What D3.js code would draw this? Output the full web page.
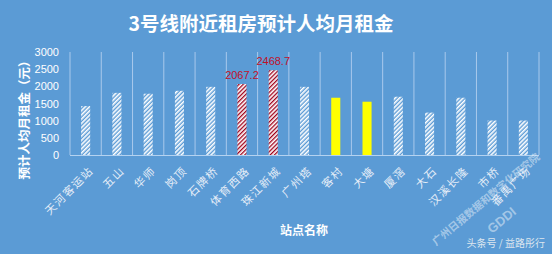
<!DOCTYPE html>
<html>
<head>
<meta charset="utf-8">
<script src="https://cdn.jsdelivr.net/npm/d3@7"></script>
<style>
  body { margin: 0; background: #5b9bd5; }
  svg { display: block; }
</style>
</head>
<body>
<div id="chart"></div>
<script>
// data
var stations = ["天河客运站", "五山", "华师", "岗顶", "石牌桥", "体育西路", "珠江新城", "广州塔",
                "客村", "大塘", "厦滘", "大石", "汉溪长隆", "市桥", "番禺广场"];
var rents = [1425, 1810, 1785, 1870, 1985, 2067.2, 2468.7, 1985, 1668, 1552, 1697, 1235, 1668, 1004, 1004];
// which bars get which fill
var barKind = ["w", "w", "w", "w", "w", "r", "r", "w", "y", "y", "w", "w", "w", "w", "w"];
var labelled = ["2067.2", "2468.7"];
var yTicks = [0, 500, 1000, 1500, 2000, 2500, 3000];

var W = 552, H = 254;
var margin = {left: 70, right: 13, top: 52, bottom: 99};

var svg = d3.select("#chart").append("svg")
    .attr("width", W)
    .attr("height", H);

svg.append("rect").attr("width", W).attr("height", H).attr("fill", "#5b9bd5");

var defs = svg.append("defs");
// white hatch
var pw = defs.append("pattern")
    .attr("id", "hatchW")
    .attr("patternUnits", "userSpaceOnUse")
    .attr("width", 3).attr("height", 3)
    .attr("patternTransform", "rotate(45)");
pw.append("rect").attr("width", 3).attr("height", 3).attr("fill", "#5b9bd5");
pw.append("rect").attr("width", 1.6).attr("height", 3).attr("fill", "#ffffff");
// red hatch
var pr = defs.append("pattern")
    .attr("id", "hatchR")
    .attr("patternUnits", "userSpaceOnUse")
    .attr("width", 3).attr("height", 3)
    .attr("patternTransform", "rotate(45)");
pr.append("rect").attr("width", 3).attr("height", 3).attr("fill", "#ffffff");
pr.append("rect").attr("width", 1.3).attr("height", 3).attr("fill", "#a0001a");

var fills = {w: "url(#hatchW)", r: "url(#hatchR)", y: "#ffff00"};

var x = d3.scaleBand()
    .domain(stations)
    .range([margin.left, W - margin.right])
    .paddingInner(0.71)
    .paddingOuter(0.355);

var y = d3.scaleLinear()
    .domain([0, 3000])
    .range([H - margin.bottom, margin.top]);

// title
svg.append("text")
    .attr("x", 261).attr("y", 31)
    .attr("text-anchor", "middle")
    .attr("fill", "#ffffff")
    .style("font-family", "'Noto Sans CJK SC', sans-serif")
    .style("font-weight", "bold")
    .style("font-size", "19.5px")
    .text("3号线附近租房预计人均月租金");

// vertical category separators
var step = x.step();
var bounds = d3.range(stations.length + 1).map(function(i) { return margin.left + i * step; });
svg.append("g").selectAll("line")
    .data(bounds)
  .enter().append("line")
    .attr("x1", function(d) { return d; })
    .attr("x2", function(d) { return d; })
    .attr("y1", y(3000))
    .attr("y2", y(0))
    .attr("stroke", "#a9c9ec")
    .attr("stroke-width", 1);

// y axis
var yAx = svg.append("g")
    .attr("transform", "translate(" + margin.left + ",0)")
    .call(d3.axisLeft(y).tickValues(yTicks).tickFormat(d3.format("d")).tickSize(0).tickPadding(11));
yAx.select(".domain").remove();
yAx.selectAll("text")
    .attr("fill", "#ffffff")
    .style("font-family", "'Liberation Sans', Arial, sans-serif")
    .style("font-size", "11px");

// x axis
var xAx = svg.append("g")
    .attr("transform", "translate(0," + y(0) + ")")
    .call(d3.axisBottom(x).tickSize(0).tickPadding(0));
xAx.select(".domain").attr("stroke", "#b4d2f0").attr("d", "M" + margin.left + ",0.5H" + (W - margin.right));
xAx.selectAll("text")
    .attr("fill", "#e6eef8")
    .style("font-family", "'Noto Sans CJK SC', sans-serif")
    .style("font-size", "11px")
    .style("letter-spacing", "1.5px")
    .attr("text-anchor", "end")
    .attr("dy", "0.3em")
    .attr("transform", "translate(6,14) rotate(-45)");

// bars
svg.append("g").selectAll("rect")
    .data(stations)
  .enter().append("rect")
    .attr("x", function(d) { return x(d); })
    .attr("width", x.bandwidth())
    .attr("y", function(d, i) { return y(rents[i]); })
    .attr("height", function(d, i) { return y(0) - y(rents[i]); })
    .attr("fill", function(d, i) { return fills[barKind[i]]; });

// value labels
svg.append("g").selectAll("text")
    .data(stations.filter(function(d, i) { return labelled.indexOf(String(rents[i])) >= 0; }))
  .enter().append("text")
    .attr("x", function(d) { return x(d) + x.bandwidth() / 2; })
    .attr("y", function(d) { return y(rents[stations.indexOf(d)]) - 5; })
    .attr("text-anchor", "middle")
    .attr("fill", "#c0102a")
    .style("font-family", "'Liberation Sans', Arial, sans-serif")
    .style("font-size", "11px")
    .text(function(d) { return rents[stations.indexOf(d)]; });

// axis titles
svg.append("text")
    .attr("transform", "translate(29,117) rotate(-90)")
    .attr("text-anchor", "middle")
    .attr("fill", "#ffffff")
    .style("font-family", "'Noto Sans CJK SC', sans-serif")
    .style("font-weight", "bold")
    .style("font-size", "12.5px")
    .text("预计人均月租金（元）");

svg.append("text")
    .attr("x", 304).attr("y", 235)
    .attr("text-anchor", "middle")
    .attr("fill", "#ffffff")
    .style("font-family", "'Noto Sans CJK SC', sans-serif")
    .style("font-weight", "bold")
    .style("font-size", "12px")
    .text("站点名称");

// watermarks
svg.append("text")
    .attr("transform", "translate(436,246) rotate(-40)")
    .attr("fill", "#ffffff").attr("fill-opacity", 0.45)
    .style("font-family", "'Noto Sans CJK SC', sans-serif")
    .style("font-weight", "bold")
    .style("font-size", "10.5px")
    .text("广州日报数据和数字化研究院");
svg.append("text")
    .attr("transform", "translate(492,234) rotate(-40)")
    .attr("fill", "#ffffff").attr("fill-opacity", 0.45)
    .style("font-family", "'Liberation Sans', Arial, sans-serif")
    .style("font-weight", "bold")
    .style("font-size", "13px")
    .text("GDDI");
svg.append("text")
    .attr("x", 545).attr("y", 247)
    .attr("text-anchor", "end")
    .attr("fill", "#dde6ef")
    .style("font-family", "'Noto Sans CJK SC', sans-serif")
    .style("font-size", "10px")
    .text("头条号 / 益路彤行");
</script>
</body>
</html>
